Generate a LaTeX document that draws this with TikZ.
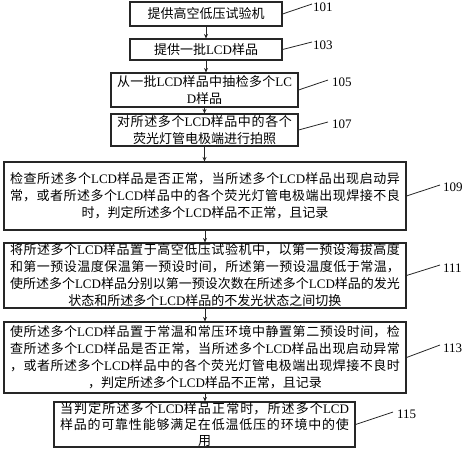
\documentclass[tikz,border=0pt]{standalone}
\usepackage{fontspec}
\setmainfont{Liberation Serif}
\newfontfamily\cjk{Noto Sans CJK SC}
\usetikzlibrary{arrows.meta}
\XeTeXlinebreaklocale "zh"
\XeTeXlinebreakskip=0pt plus 6pt
\newcommand\lcd{{\rmfamily LCD}}
\begin{document}
\begin{tikzpicture}[x=1pt,y=-1pt,
  box/.style={draw=black!85, line width=1.1pt, inner xsep=6pt, inner ysep=0pt,
    font=\cjk\fontsize{13}{17}\selectfont,
    execute at begin node={\parindent=0pt\leftskip=0pt plus 1fil\rightskip=0pt plus -1fil\parfillskip=0pt plus 2fil\tolerance=10000},
    text width=#1},
  lab/.style={font=\fontsize{13}{15}\selectfont, inner sep=0pt, anchor=west},
  lead/.style={line width=0.8pt, draw=black!85},
  flow/.style={line width=0.8pt, draw=black!85, -{Stealth[length=4.5pt,width=4pt]}}]
\useasboundingbox (0,0) rectangle (466,450);

\node[box=140pt, minimum height=24pt] (b101) at (206,14) {提供高空低压试验机};
\node[box=140pt, minimum height=21pt] (b103) at (206,49.5) {提供一批\lcd 样品};
\node[box=175pt, minimum height=34pt] (b105) at (204.5,90) {从一批\lcd 样品中抽检多个{\rmfamily LC}\linebreak{\rmfamily D}样品};
\node[box=175pt, minimum height=32pt] (b107) at (204.5,130) {对所述多个\lcd 样品中的各个\linebreak 荧光灯管电极端进行拍照};
\node[box=390pt, minimum height=68pt] (b109) at (205,196) {检查所述多个\lcd 样品是否正常，当所述多个\lcd 样品出现启动异\linebreak 常，或者所述多个\lcd 样品中的各个荧光灯管电极端出现焊接不良\linebreak 时，判定所述多个\lcd 样品不正常，且记录};
\node[box=390pt, minimum height=65pt] (b111) at (205,275.5) {将所述多个\lcd 样品置于高空低压试验机中，以第一预设海拔高度\linebreak 和第一预设温度保温第一预设时间，所述第一预设温度低于常温，\linebreak 使所述多个\lcd 样品分别以第一预设次数在所述多个\lcd 样品的发光\linebreak 状态和所述多个\lcd 样品的不发光状态之间切换};
\node[box=390pt, minimum height=71pt] (b113) at (205,357.5) {使所述多个\lcd 样品置于常温和常压环境中静置第二预设时间，检\linebreak 查所述多个\lcd 样品是否正常，当所述多个\lcd 样品出现启动异常\linebreak ，或者所述多个\lcd 样品中的各个荧光灯管电极端出现焊接不良时\linebreak ，判定所述多个\lcd 样品不正常，且记录};
\node[box=289pt, minimum height=45pt, font=\cjk\fontsize{13}{16}\selectfont] (b115) at (204.5,424.5) {当判定所述多个\lcd 样品正常时，所述多个\lcd\linebreak 样品的可靠性能够满足在低温低压的环境中的使\linebreak 用};

\draw[flow] (b101.south) -- (b101.south |- b103.north);
\draw[flow] (b103.south) -- (b103.south |- b105.north);
\draw[flow] (b105.south) -- (b105.south |- b107.north);
\draw[flow] (b107.south) -- (b107.south |- b109.north);
\draw[flow] (b109.south) -- (b109.south |- b111.north);
\draw[flow] (b111.south) -- (b111.south |- b113.north);
\draw[flow] (b113.south) -- (b113.south |- b115.north);

\coordinate (e101) at (312,4);
\coordinate (e103) at (312,42);
\coordinate (e105) at (328,80);
\coordinate (e107) at (328,122);
\coordinate (e109) at (440,185);
\coordinate (e111) at (440,265);
\coordinate (e113) at (440,345);
\coordinate (e115) at (393,412);

\node[lab] (l101) at (313,7) {101};
\node[lab] (l103) at (313,45) {103};
\node[lab] (l105) at (332,82) {105};
\node[lab] (l107) at (332,124) {107};
\node[lab] (l109) at (443,187) {109};
\node[lab] (l111) at (443,268) {111};
\node[lab] (l113) at (443,348) {113};
\node[lab] (l115) at (397,414) {115};

\draw[lead] (b101.east) -- (e101);
\draw[lead] (b103.east) -- (e103);
\draw[lead] (b105.east) -- (e105);
\draw[lead] (b107.east) -- (e107);
\draw[lead] (b109.east) -- (e109);
\draw[lead] (b111.east) -- (e111);
\draw[lead] (b113.east) -- (e113);
\draw[lead] (b115.east) -- (e115);
\end{tikzpicture}
\end{document}
